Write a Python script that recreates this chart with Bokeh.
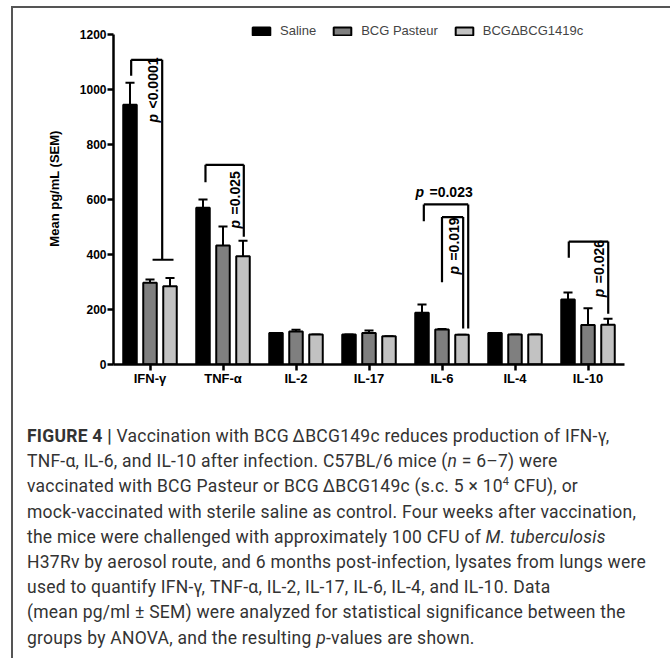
import math
from bokeh.plotting import figure
from bokeh.models import (FactorRange, Range1d, FixedTicker, Legend, LegendItem,
                          ColumnDataSource, Div)
from bokeh.transform import dodge
from bokeh.layouts import column
from bokeh.core.properties import value
from bokeh.embed import file_html
from bokeh.resources import INLINE

# ---------------- data ----------------
categories = ["IFN-γ", "TNF-α", "IL-2", "IL-17", "IL-6", "IL-4", "IL-10"]
groups = ["Saline", "BCG Pasteur", "BCGΔBCG1419c"]
saline = [945, 570, 115, 109, 188, 115, 236]
saline_sem = [80, 30, 0, 0, 30, 0, 26]
pasteur = [297, 433, 120, 115, 127, 109, 144]
pasteur_sem = [12, 69, 6, 9, 2, 0, 61]
mutant = [285, 394, 109, 103, 108, 109, 145]
mutant_sem = [30, 56, 0, 0, 0, 0, 21]
y_ticks = [0, 200, 400, 600, 800, 1000, 1200]

# significance brackets
br_cat = ["IFN-γ", "TNF-α", "IL-6", "IL-6", "IL-10"]
br_top = [1108, 726, 582, 536, 447]
br_left_bottom = [1050, 663, 521, 299, 388]
br_right_bottom = [381, 465, 131, 131, 185]
br_label = ["<0.0001", "=0.025", "=0.023", "=0.019", "=0.026"]
br_label_rotated = [True, True, False, True, True]
br_label_y = [880, 495, 626, 327, 245]
ifn_foot_y = 381

colors = ["#000000", "#7f7f7f", "#c2c2c2"]
offsets = [-0.274, 0.0, 0.274]
# bracket leg positions (category units relative to centre)
br_left_off = [-0.258, -0.24, -0.249, 0.0, -0.263]
br_right_off = [0.167, 0.285, 0.359, 0.29, 0.277]

FONT = "Liberation Sans"
PFONT = "Arial"

p = figure(x_range=FactorRange(*categories, range_padding=0),
           y_range=Range1d(0, 1280),
           width=652, height=395, output_backend="svg", toolbar_location=None,
           min_border=0)
p.min_border_left = 100
p.min_border_right = 41
p.min_border_top = 4
p.min_border_bottom = 39
p.outline_line_color = None
p.grid.visible = False
p.background_fill_color = "white"
p.border_fill_color = "white"

src = ColumnDataSource(dict(
    cat=categories,
    s=saline, s_hi=[v + e for v, e in zip(saline, saline_sem)],
    b=pasteur, b_hi=[v + e for v, e in zip(pasteur, pasteur_sem)],
    m=mutant, m_hi=[v + e for v, e in zip(mutant, mutant_sem)],
))

bar_renderers = []
for key, col, off in zip(["s", "b", "m"], colors, offsets):
    # error bars (upper whisker only)
    p.segment(x0=dodge("cat", off, range=p.x_range), y0=key,
              x1=dodge("cat", off, range=p.x_range), y1=key + "_hi",
              source=src, line_color="black", line_width=2)
    p.segment(x0=dodge("cat", off - 0.062, range=p.x_range), y0=key + "_hi",
              x1=dodge("cat", off + 0.062, range=p.x_range), y1=key + "_hi",
              source=src, line_color="black", line_width=2)
    r = p.vbar(x=dodge("cat", off, range=p.x_range), top=key, width=0.185,
               source=src, fill_color=col, line_color="black", line_width=2)
    bar_renderers.append(r)

# brackets
for i in range(len(br_cat)):
    bs = ColumnDataSource(dict(cat=[br_cat[i]], top=[br_top[i]],
                               lb=[br_left_bottom[i]], rb=[br_right_bottom[i]],
                               ly=[br_label_y[i]], lab=[br_label[i]], pp=["p"]))
    xl = dodge("cat", br_left_off[i], range=p.x_range)
    xr = dodge("cat", br_right_off[i], range=p.x_range)
    p.segment(x0=xl, y0="top", x1=xr, y1="top", source=bs, line_color="black", line_width=2.2)
    p.segment(x0=xl, y0="top", x1=xl, y1="lb", source=bs, line_color="black", line_width=2.2)
    p.segment(x0=xr, y0="top", x1=xr, y1="rb", source=bs, line_color="black", line_width=2.2)
    if br_label_rotated[i]:
        xt = dodge("cat", br_right_off[i] - 0.125, range=p.x_range)
        p.text(x=xt, y="ly", text="pp", source=bs, angle=math.pi / 2,
               text_align="left", text_baseline="middle",
               text_font=value(PFONT), text_font_style="bold italic",
               text_font_size="14px", text_color="black")
        p.text(x=xt, y="ly", text="lab", source=bs, angle=math.pi / 2,
               text_align="left", text_baseline="middle", y_offset=-14,
               text_font=value(PFONT), text_font_style="bold",
               text_font_size="14px", text_color="black")
    else:
        xt = dodge("cat", -0.363, range=p.x_range)
        p.text(x=xt, y="ly", text="pp", source=bs,
               text_align="left", text_baseline="middle",
               text_font=value(PFONT), text_font_style="bold italic",
               text_font_size="14px", text_color="black")
        p.text(x=xt, y="ly", text="lab", source=bs,
               text_align="left", text_baseline="middle", x_offset=14,
               text_font=value(PFONT), text_font_style="bold",
               text_font_size="14px", text_color="black")

# T-foot of the IFN-γ bracket
fs = ColumnDataSource(dict(cat=[br_cat[0]], y=[ifn_foot_y]))
p.segment(x0=dodge("cat", 0.035, range=p.x_range), y0="y",
          x1=dodge("cat", 0.322, range=p.x_range), y1="y",
          source=fs, line_color="black", line_width=2.2)

# axes
for ax in (p.xaxis[0], p.yaxis[0]):
    ax.axis_line_width = 2.5
    ax.axis_line_color = "black"
    ax.major_tick_line_width = 2.5
    ax.major_tick_line_color = "black"
    ax.major_tick_in = 0
    ax.major_tick_out = 6
    ax.minor_tick_line_color = None
    ax.major_label_text_font = FONT
    ax.major_label_text_font_style = "bold"
    ax.major_label_text_color = "black"

p.yaxis[0].ticker = FixedTicker(ticks=y_ticks)
p.yaxis[0].bounds = (0, 1200)
p.yaxis[0].major_label_text_font_size = "12px"
p.yaxis[0].major_label_standoff = 1
p.yaxis[0].axis_label = "Mean pg/mL (SEM)"
p.yaxis[0].axis_label_text_font = FONT
p.yaxis[0].axis_label_text_font_style = "bold"
p.yaxis[0].axis_label_text_font_size = "13px"
p.yaxis[0].axis_label_text_color = "black"
p.yaxis[0].axis_label_standoff = 15
p.xaxis[0].major_label_text_font_size = "13px"
p.xaxis[0].major_label_standoff = 0

legend = Legend(items=[LegendItem(label=g, renderers=[r]) for g, r in zip(groups, bar_renderers)],
                orientation="horizontal", location=(137, 326), padding=0, margin=0,
                spacing=15, label_standoff=8, glyph_width=22, glyph_height=10,
                label_text_font=FONT, label_text_font_size="13px",
                border_line_color=None, background_fill_alpha=0)
p.add_layout(legend)

caption_html = (
    '<div style="font-family: Roboto, sans-serif; font-size: 17.5px; line-height: 25.2px; '
    'letter-spacing: 0.25px; color: #333333; padding: 16px 0 0 9px; white-space: nowrap;">'
    '<b>FIGURE 4 |</b> Vaccination with BCG&#8201;&Delta;BCG149c reduces production of IFN-&gamma;,<br>'
    'TNF-&alpha;, IL-6, and IL-10 after infection. C57BL/6 mice (<i>n</i> = 6&ndash;7) were<br>'
    'vaccinated with BCG Pasteur or BCG&#8201;&Delta;BCG149c (s.c. 5 &times; 10<sup style="font-size:11px;line-height:0">4</sup> CFU), or<br>'
    'mock-vaccinated with sterile saline as control. Four weeks after vaccination,<br>'
    'the mice were challenged with approximately 100 CFU of <i>M. tuberculosis</i><br>'
    'H37Rv by aerosol route, and 6 months post-infection, lysates from lungs were<br>'
    'used to quantify IFN-&gamma;, TNF-&alpha;, IL-2, IL-17, IL-6, IL-4, and IL-10. Data<br>'
    '(mean pg/ml &plusmn; SEM) were analyzed for statistical significance between the<br>'
    'groups by ANOVA, and the resulting <i>p</i>-values are shown.'
    '</div>'
)
caption = Div(text=caption_html, width=652, height=255)

layout = column(p, caption, margin=(6, 0, 0, 11),
                styles={"border-left": "2px solid #555555",
                        "border-right": "2px solid #555555",
                        "border-top": "2px solid #555555"})

open("out.html", "w").write(file_html(layout, INLINE))
